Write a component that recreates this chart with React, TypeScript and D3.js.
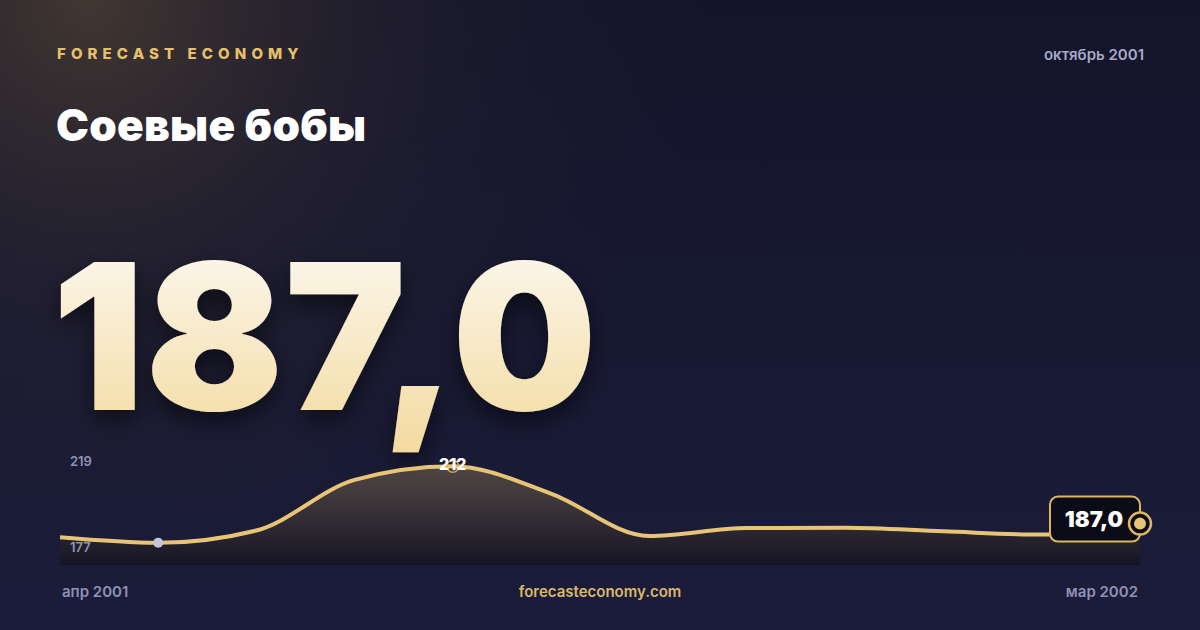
import React from 'react';
import * as d3 from 'd3';

const months = ['апр 2001', 'май 2001', 'июн 2001', 'июл 2001', 'авг 2001', 'сен 2001', 'окт 2001', 'ноя 2001', 'дек 2001', 'янв 2002', 'фев 2002', 'мар 2002'];
const prices = [186, 184, 188.5, 207, 212, 202, 186.5, 189.4, 189.5, 188.2, 187, 187];
const axisLabels = ['219', '177'];
const yDomain = [177, 219];

const W = 1200;
const H = 630;
const FONT = 'Inter, "Noto Sans", sans-serif';

export default function App() {
  const x = d3.scalePoint<string>().domain(months).range([60, 1140]);
  const y = d3.scaleLinear().domain(yDomain).range([562, 447]);
  const bottom = 565;

  const pts = months.map((m, i) => ({ m, v: prices[i] }));
  const line = d3.line<{ m: string; v: number }>()
    .x(d => x(d.m)!)
    .y(d => y(d.v))
    .curve(d3.curveMonotoneX);
  const area = d3.area<{ m: string; v: number }>()
    .x(d => x(d.m)!)
    .y0(bottom)
    .y1(d => y(d.v))
    .curve(d3.curveMonotoneX);

  const maxI = d3.maxIndex(prices);
  const minI = d3.minIndex(prices);
  const last = pts[pts.length - 1];
  const lastX = x(last.m)!;
  const lastY = y(last.v);
  const fmt = (v: number) => v.toFixed(1).replace('.', ',');

  return (
    <div style={{ position: 'fixed', left: 0, top: 0, width: W, height: H }}>
      <svg width={W} height={H} viewBox={`0 0 ${W} ${H}`} style={{ display: 'block' }}>
        <defs>
          <linearGradient id="bg" x1="0" y1="0" x2="0" y2="1">
            <stop offset="0%" stopColor="#14152a" />
            <stop offset="100%" stopColor="#1b1c3a" />
          </linearGradient>
          <radialGradient id="glow" cx="90" cy="0" r="620" gradientUnits="userSpaceOnUse">
            <stop offset="0%" stopColor="#4a3d32" stopOpacity={0.85} />
            <stop offset="45%" stopColor="#2e2830" stopOpacity={0.45} />
            <stop offset="100%" stopColor="#1a1a30" stopOpacity={0} />
          </radialGradient>
          <linearGradient id="num" x1="0" y1="0" x2="0" y2="1">
            <stop offset="0%" stopColor="#fdfcf9" />
            <stop offset="100%" stopColor="#f3d99c" />
          </linearGradient>
          <linearGradient id="areaFill" x1="0" y1={y(yDomain[1])} x2="0" y2={bottom} gradientUnits="userSpaceOnUse">
            <stop offset="0%" stopColor="#a58a5e" stopOpacity={0.45} />
            <stop offset="100%" stopColor="#100e14" stopOpacity={0.55} />
          </linearGradient>
          <filter id="shadow" x="-10%" y="-10%" width="130%" height="140%">
            <feDropShadow dx="0" dy="10" stdDeviation="12" floodColor="#000" floodOpacity={0.55} />
          </filter>
        </defs>

        <rect width={W} height={H} fill="url(#bg)" />
        <rect width={W} height={H} fill="url(#glow)" />

        {/* header */}
        <text x={57} y={59} fontFamily={FONT} fontSize={15} fontWeight={800} letterSpacing={5.1} fill="#e6c06d">
          FORECAST ECONOMY
        </text>
        <text x={1144} y={60} textAnchor="end" fontFamily={FONT} fontSize={15} fontWeight={600} fill="#a7a9c7">
          октябрь 2001
        </text>
        <text x={56} y={141} fontFamily={FONT} fontSize={44} fontWeight={900} letterSpacing={0.3} fill="#ffffff">
          Соевые бобы
        </text>

        {/* big value */}
        <text
          x={52}
          y={410}
          fontFamily={FONT}
          fontSize={204}
          fontWeight={900}
          letterSpacing={1}
          fill="url(#num)"
          filter="url(#shadow)"
        >
          {fmt(last.v)}
        </text>

        {/* sparkline */}
        <path d={area(pts)!} fill="url(#areaFill)" />
        <path d={line(pts)!} fill="none" stroke="#e8c576" strokeWidth={4} strokeLinejoin="round" />

        <text x={70} y={466} fontFamily={FONT} fontSize={13} fontWeight={600} fill="#9093b5">{axisLabels[0]}</text>
        <text x={70} y={552} fontFamily={FONT} fontSize={13} fontWeight={600} fill="#9093b5">{axisLabels[1]}</text>

        <circle cx={x(months[minI])!} cy={y(prices[minI])} r={5} fill="#c3c7e0" />

        <circle cx={x(months[maxI])!} cy={y(prices[maxI])} r={6} fill="none" stroke="#d4a54e" strokeWidth={1.5} />
        <text x={x(months[maxI])!} y={y(prices[maxI]) + 4} textAnchor="middle" fontFamily={FONT} fontSize={16} fontWeight={800} fill="#ffffff">
          {d3.format('d')(prices[maxI])}
        </text>

        {/* last value badge */}
        <rect x={lastX - 90} y={lastY - 38} width={90} height={45} rx={8} fill="#0b0c18" stroke="#dcb662" strokeWidth={2} />
        <text x={lastX - 46} y={lastY - 8} textAnchor="middle" fontFamily={FONT} fontSize={22} fontWeight={900} fill="#ffffff">
          {fmt(last.v)}
        </text>
        <circle cx={lastX} cy={lastY - 11} r={11} fill="#0b0c18" stroke="#dcb662" strokeWidth={2.5} />
        <circle cx={lastX} cy={lastY - 11} r={6} fill="#e8c576" />

        {/* footer */}
        <text x={62} y={597} fontFamily={FONT} fontSize={15} fontWeight={600} fill="#8e91b3">{months[0]}</text>
        <text x={600} y={597} textAnchor="middle" fontFamily={FONT} fontSize={15} fontWeight={600} fill="#d9b86b">forecasteconomy.com</text>
        <text x={1138} y={597} textAnchor="end" fontFamily={FONT} fontSize={15} fontWeight={600} fill="#8e91b3">{months[months.length - 1]}</text>
      </svg>
    </div>
  );
}
